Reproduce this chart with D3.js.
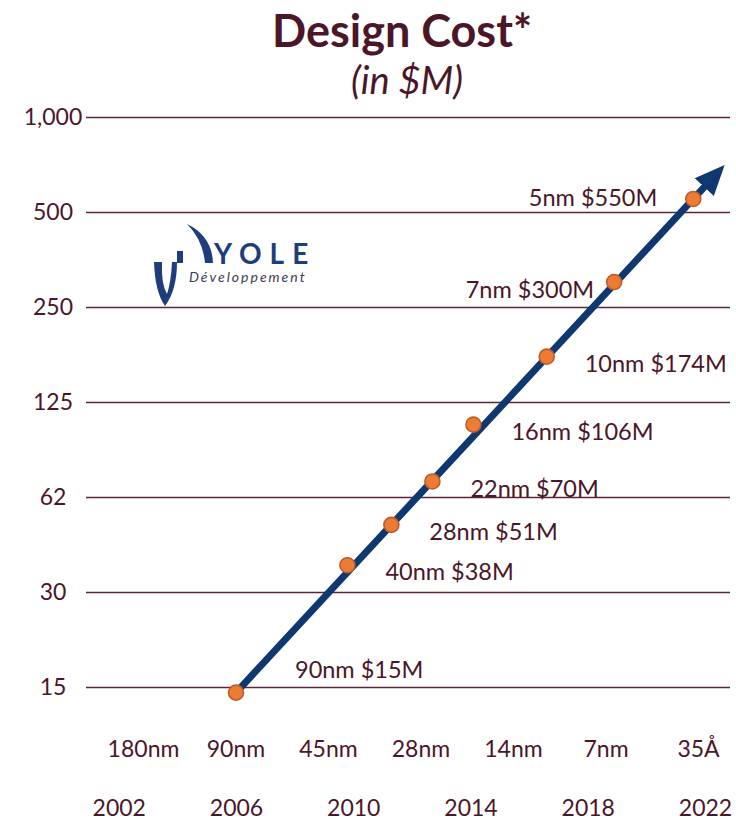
<!DOCTYPE html>
<html>
<head>
<meta charset="utf-8">
<script src="https://cdn.jsdelivr.net/npm/d3@7"></script>
<style>
  html, body { margin: 0; padding: 0; background: #fff; }
  svg { display: block; }
  text { font-family: Lato, "Open Sans", sans-serif; }
</style>
</head>
<body>
<svg id="chart" width="736" height="825"></svg>
<script>
// Design cost per process node, log scale (in $M)
const nodes  = ["90nm", "40nm", "28nm", "22nm", "16nm", "10nm", "7nm", "5nm"];
const costs  = [15, 38, 51, 70, 106, 174, 300, 550];
const years  = [2006, 2009.8, 2011.3, 2012.7, 2014.1, 2016.6, 2018.9, 2021.6];

// Axis tick values and their printed labels
const yTickValues = [15.625, 31.25, 62.5, 125, 250, 500, 1000];
const yTickLabels = ["15", "30", "62", "125", "250", "500", "1,000"];
const nodeRow = ["180nm", "90nm", "45nm", "28nm", "14nm", "7nm", "35Å"];
const yearRow = [2002, 2006, 2010, 2014, 2018, 2022];

const TEXT = "#4b1628";
const GRID = "#5b2539";
const NAVY = "#0f3770";
const ORANGE = "#ee7b33";
const ORANGE_EDGE = "#b9602a";

const svg = d3.select("#chart");

const x = d3.scaleLinear().domain([2006, 2022]).range([236, 705]);
const y = d3.scaleLog().base(2).domain([15.625, 1000]).range([687, 117]);
const xNodes = d3.scalePoint().domain(nodeRow).range([143, 698]);

// Title
svg.append("text")
  .attr("x", 402).attr("y", 47)
  .attr("text-anchor", "middle")
  .attr("font-size", 45).attr("font-weight", 700)
  .attr("fill", TEXT)
  .text("Design Cost*");
svg.append("text")
  .attr("x", 407).attr("y", 94)
  .attr("text-anchor", "middle")
  .attr("font-size", 38).attr("font-style", "italic")
  .attr("fill", TEXT)
  .text("(in $M)");

// Horizontal gridlines with tick labels
const yAxis = d3.axisLeft(y)
  .tickValues(yTickValues)
  .tickSize(-(730 - 86))
  .tickPadding(0)
  .tickFormat((d, i) => yTickLabels[i]);

const gy = svg.append("g")
  .attr("transform", "translate(86,0)")
  .call(yAxis);
gy.select(".domain").remove();
gy.selectAll(".tick line")
  .attr("stroke", GRID).attr("stroke-width", 1.4);
gy.selectAll(".tick text")
  .attr("x", -33)
  .attr("text-anchor", "middle")
  .attr("font-size", 23)
  .attr("font-family", "Lato, sans-serif")
  .attr("fill", TEXT);

// Node row and year row under the plot
const xNodeAxis = d3.axisBottom(xNodes).tickSize(0).tickPadding(0);
const gn = svg.append("g").attr("transform", "translate(0,741)").call(xNodeAxis);
gn.select(".domain").remove();
gn.selectAll(".tick text")
  .attr("font-size", 23).attr("font-family", "Lato, sans-serif").attr("fill", TEXT);

const xYearAxis = d3.axisBottom(x).tickValues(yearRow).tickFormat(d3.format("d"))
  .tickSize(0).tickPadding(0);
const gyr = svg.append("g").attr("transform", "translate(0,800)").call(xYearAxis);
gyr.select(".domain").remove();
gyr.selectAll(".tick text")
  .attr("font-size", 23).attr("font-family", "Lato, sans-serif").attr("fill", TEXT);

// Logo
const logo = svg.append("g").attr("fill", "#1d3d7c");
logo.append("path")
  .attr("d", "M187,224 Q212,236 213,263 L205,263 Q203,240 187,224 Z");
logo.append("rect").attr("x", 177).attr("y", 251).attr("width", 6).attr("height", 12);
logo.append("path")
  .attr("d", "M154,262 L162,262 Q161,284 167,294 Q171,282 172,262 L177,262 Q177,290 165,306 Q155,292 154,262 Z");
logo.append("text")
  .attr("x", 214).attr("y", 264)
  .attr("font-size", 28).attr("font-weight", 700)
  .attr("letter-spacing", 8)
  .attr("font-family", "'DejaVu Sans', sans-serif")
  .text("YOLE");
logo.append("text")
  .attr("x", 189).attr("y", 282)
  .attr("font-size", 14).attr("font-style", "italic")
  .attr("letter-spacing", 2)
  .attr("fill", "#3a3d52")
  .attr("font-family", "'DejaVu Sans', sans-serif")
  .text("Développement");

// Trend arrow from the first node through the last one
const first = [x(years[0]), y(costs[0])];
const last = [x(years[years.length - 1]), y(costs[costs.length - 1])];
const tip = [last[0] + (last[0] - first[0]) * 0.03, last[1] + (last[1] - first[1]) * 0.03];

svg.append("defs").append("marker")
  .attr("id", "head")
  .attr("markerUnits", "userSpaceOnUse")
  .attr("markerWidth", 34).attr("markerHeight", 30)
  .attr("refX", 4).attr("refY", 15)
  .attr("orient", "auto")
  .append("path")
  .attr("d", "M0,2 L30,15 L0,28 Z")
  .attr("fill", NAVY);

svg.append("line")
  .attr("x1", first[0]).attr("y1", first[1])
  .attr("x2", tip[0]).attr("y2", tip[1])
  .attr("stroke", NAVY).attr("stroke-width", 7)
  .attr("marker-end", "url(#head)");

// Points
const data = nodes.map((n, i) => ({ node: n, cost: costs[i], year: years[i] }));

svg.append("g").selectAll("circle")
  .data(data).join("circle")
  .attr("cx", d => x(d.year))
  .attr("cy", d => y(d.cost))
  .attr("r", 7.5)
  .attr("fill", ORANGE)
  .attr("stroke", ORANGE_EDGE)
  .attr("stroke-width", 1.6);

// Value labels: first above-right, last two to the left, the rest to the right
function labelPos(d, i) {
  const px = x(d.year), py = y(d.cost);
  if (i === 0) return { x: px + 59, y: py - 23, anchor: "start" };
  if (i >= nodes.length - 2) return { x: px - (i === nodes.length - 1 ? 36 : 20), y: py + (i === nodes.length - 1 ? -1 : 8), anchor: "end" };
  return { x: px + 38, y: py + 7, anchor: "start" };
}

svg.append("g").selectAll("text")
  .data(data).join("text")
  .each(function (d, i) {
    const p = labelPos(d, i);
    d3.select(this)
      .attr("x", p.x).attr("y", p.y)
      .attr("dy", "0.35em")
      .attr("text-anchor", p.anchor);
  })
  .attr("font-size", 23.5)
  .attr("fill", TEXT)
  .text(d => `${d.node} $${d.cost}M`);
</script>
</body>
</html>
